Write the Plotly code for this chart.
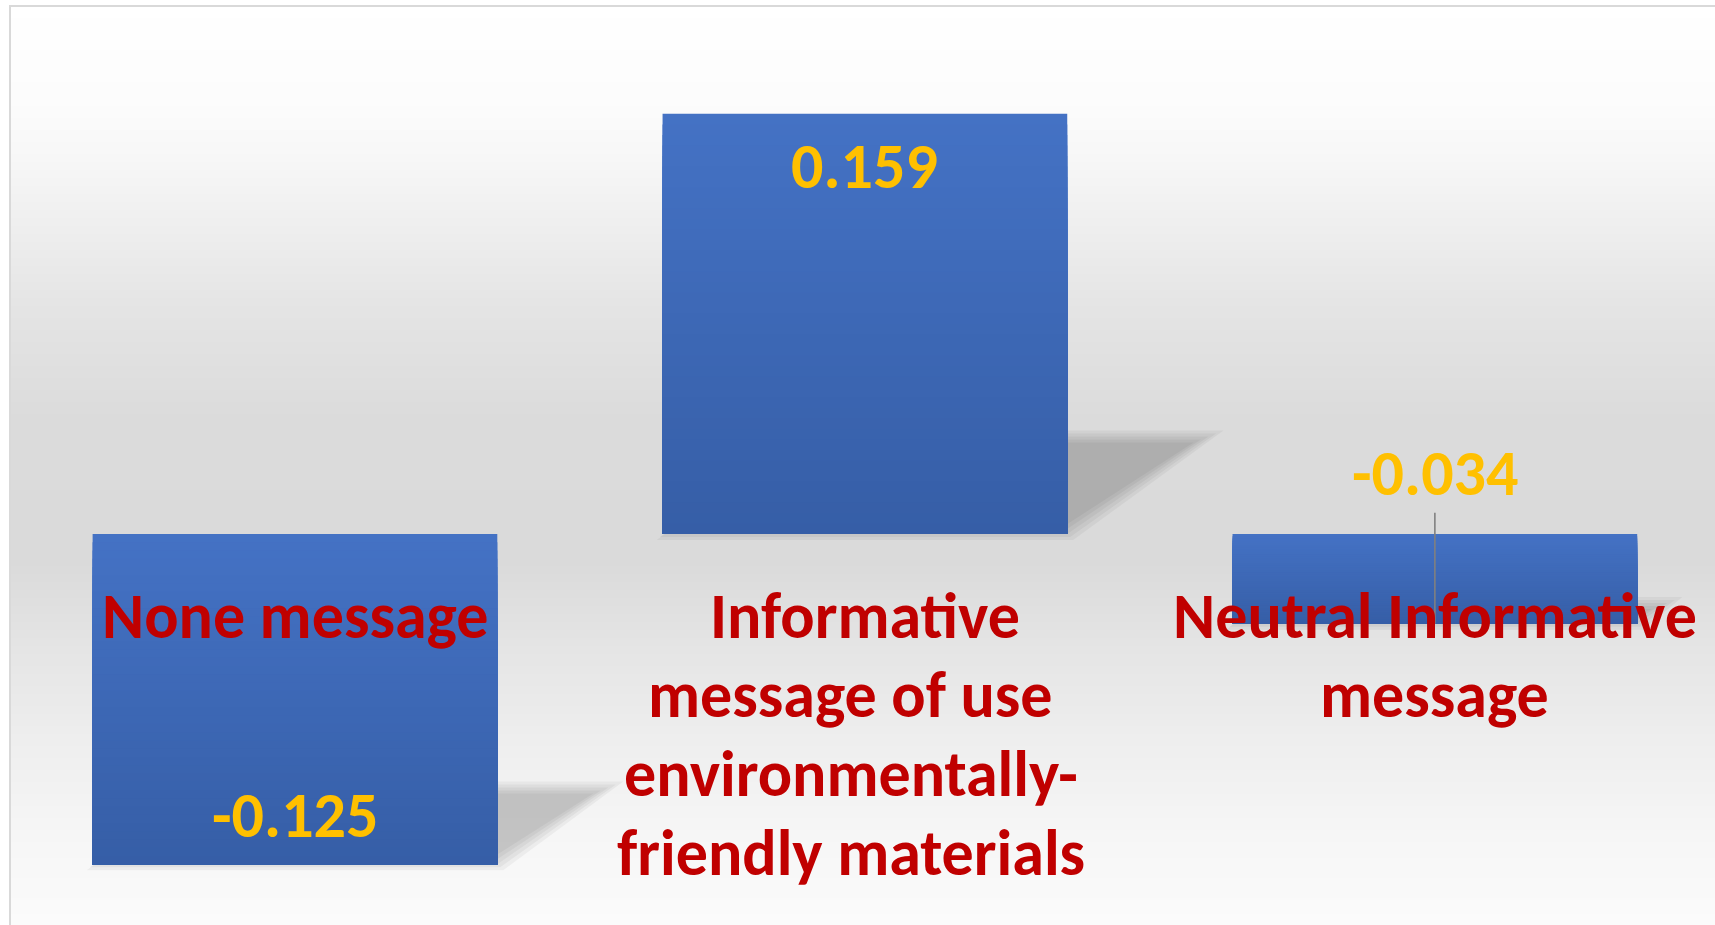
import plotly.graph_objects as go

# ---------------- data ----------------
categories = ["None message",
              "Informative message of use environmentally-friendly materials",
              "Neutral Informative message"]
category_lines = [["None message"],
                  ["Informative", "message of use", "environmentally-", "friendly materials"],
                  ["Neutral Informative", "message"]]
values = [-0.125, 0.159, -0.034]
value_labels = ["-0.125", "0.159", "-0.034"]
error_plus = [0.0, 0.0, 0.042]

# ---------------- style ----------------
W, H = 1715, 925
XR = [-0.5175, 2.4915]
YR = [-0.148, 0.2021]
BAR_W = 0.71
FONT = "Carlito, Calibri, Lato, 'Open Sans', sans-serif"
LABEL_SIZE = 64
CAT_SIZE = 64
label_yshift = [49, -52, 151]     # px offset of data labels from value point
CAT_TOP_PX = 82                   # first category line centre below zero line (px)
CAT_LINE_PX = 79
cat_line_xshift = [[0], [0, -14, -14, -14], [0, 0]]
TOP_RGB = (68, 114, 196)
BOT_RGB = (54, 94, 167)
N_SEG = 40

px_x = W / (XR[1] - XR[0])
px_y = H / (YR[1] - YR[0])

fig = go.Figure()

# gradient bars: overlaid layers from full bar down to thin bottom slice
for k in range(N_SEG):
    t = k / (N_SEG - 1)
    col = "rgb(%d,%d,%d)" % tuple(round(TOP_RGB[j] + (BOT_RGB[j] - TOP_RGB[j]) * t) for j in range(3))
    bases, heights = [], []
    for v in values:
        top, bot = max(0, v), min(0, v)
        h = top - bot
        bases.append(bot)
        heights.append(h * (1 - k / N_SEG))
    fig.add_trace(go.Bar(x=categories, y=heights, base=bases, width=BAR_W,
                         marker=dict(color=col, line=dict(width=0)),
                         showlegend=False, hoverinfo="skip"))

# leader / error line
fig.add_trace(go.Scatter(x=categories, y=values, mode="markers",
                         marker=dict(size=1, opacity=0),
                         error_y=dict(type="data", symmetric=False, array=error_plus,
                                      arrayminus=[0, 0, 0], color="#808080",
                                      thickness=1.6, width=0),
                         showlegend=False, hoverinfo="skip"))

shapes = []
# background gradient (chart area)
stops = [(0, 255), (100, 252), (150, 248), (300, 229), (420, 219), (560, 218),
         (660, 230), (750, 239), (850, 247), (925, 251)]


def gray_at(y):
    for (y0, g0), (y1, g1) in zip(stops, stops[1:]):
        if y0 <= y <= y1:
            return g0 + (g1 - g0) * (y - y0) / (y1 - y0)
    return stops[-1][1]


step = 4
y = 6
while y < H:
    g = round(gray_at(y + step / 2))
    shapes.append(dict(type="rect", xref="paper", yref="paper", layer="below",
                       x0=10 / W, x1=1.0, y0=1 - (y + step) / H, y1=1 - y / H,
                       fillcolor="rgb(%d,%d,%d)" % (g, g, g), line=dict(width=0)))
    y += step

# perspective shadows computed from bar geometry
for i, v in enumerate(values):
    bot = min(0, v)
    h_px = abs(v) * px_y
    hs = 0.232 * h_px
    sh = 1.45 * hs
    xl, xr = i - BAR_W / 2, i + BAR_W / 2
    for d in [-6, -3, 0, 3, 6]:
        if hs - 2 * d <= 2:
            continue
        yb = bot + d / px_y
        yt = bot + (hs - d) / px_y
        x1 = xl + d / px_x
        x2 = xr - d / px_x
        path = "M %f,%f L %f,%f L %f,%f L %f,%f Z" % (
            x1, yb, x2, yb, x2 + (sh - d * 1.5) / px_x, yt, x1 + (sh - d * 1.5) / px_x, yt)
        shapes.append(dict(type="path", xref="x", yref="y", layer="below", path=path,
                           fillcolor="rgba(0,0,0,0.045)", line=dict(width=0)))

# chart border
shapes.append(dict(type="rect", xref="paper", yref="paper", layer="above",
                   x0=10 / W, x1=1.05, y0=-0.05, y1=1 - 6 / H,
                   line=dict(color="#D9D9D9", width=2), fillcolor="rgba(0,0,0,0)"))

annotations = []
for i, (v, t) in enumerate(zip(values, value_labels)):
    annotations.append(dict(x=categories[i], y=v, xref="x", yref="y", text=t,
                            showarrow=False, yanchor="middle", yshift=label_yshift[i],
                            font=dict(family=FONT, size=LABEL_SIZE, color="#FFC000",
                                      weight="bold")))
for i, lines in enumerate(category_lines):
    for j, line in enumerate(lines):
        annotations.append(dict(x=categories[i], y=0, xref="x", yref="y", text=line,
                                showarrow=False, yanchor="middle",
                                xshift=cat_line_xshift[i][j],
                                yshift=-(CAT_TOP_PX + j * CAT_LINE_PX),
                                font=dict(family=FONT, size=CAT_SIZE, color="#C00000",
                                          weight="bold")))

fig.update_layout(
    width=W, height=H, margin=dict(l=0, r=0, t=0, b=0),
    paper_bgcolor="white", plot_bgcolor="rgba(0,0,0,0)",
    barmode="overlay", showlegend=False,
    xaxis=dict(range=XR, visible=False, showgrid=False, zeroline=False),
    yaxis=dict(range=YR, visible=False, showgrid=False, zeroline=False),
    shapes=shapes, annotations=annotations,
)

fig.write_html("out.html", config={"displayModeBar": False})
